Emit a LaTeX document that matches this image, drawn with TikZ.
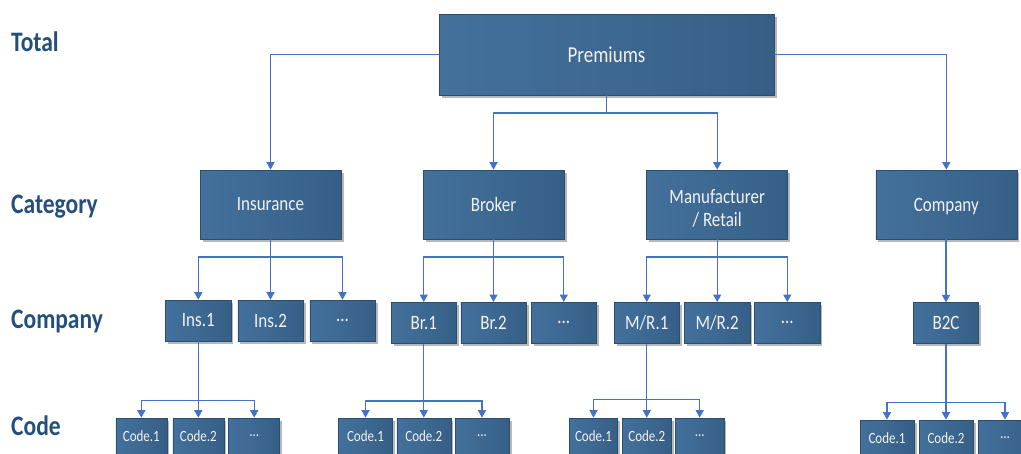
\documentclass[tikz,border=0pt]{standalone}
\usepackage{fontspec}
\setmainfont{Carlito}
\usepackage{graphicx}
\usetikzlibrary{arrows.meta,shadows}
\definecolor{boxA}{HTML}{43719C}
\definecolor{boxB}{HTML}{365F86}
\definecolor{boxE}{HTML}{2B4D6E}
\definecolor{lineC}{HTML}{4472C4}
\definecolor{lblC}{HTML}{234F7C}
\definecolor{txtC}{HTML}{F2F2F2}
\newcommand{\vst}[1]{\scalebox{1}[1.2]{#1}}
\begin{document}
\begin{tikzpicture}[x=1pt,y=-1pt,
  box/.style={draw=boxE, line width=0.6pt, left color=boxA, right color=boxB,
    text=txtC, inner sep=0pt,
    drop shadow={shadow xshift=2.5pt,shadow yshift=-2.5pt,fill=black,opacity=0.28}},
  totbox/.style={box, minimum width=335pt, minimum height=81pt, font=\fontsize{19}{22}\selectfont},
  catbox/.style={box, minimum width=141pt, minimum height=69pt, font=\fontsize{17}{23.7}\selectfont},
  compbox/.style={box, minimum width=65.3pt, minimum height=41pt, font=\fontsize{17}{20}\selectfont},
  codebox/.style={box, minimum height=36pt, font=\fontsize{13}{15}\selectfont},
  lbl/.style={anchor=base west, inner sep=0pt, text=lblC, font=\fontsize{23.5}{26}\selectfont\bfseries},
  ln/.style={draw=lineC, line width=1.3pt},
  arr/.style={ln, -{Triangle[width=8pt,length=7.5pt]}}
]
\useasboundingbox (0,0) rectangle (1021,453);
\clip (0,0) rectangle (1021,453);
\fill[white] (0,0) rectangle (1021,453);

% level labels
\node[lbl] (lt) at (11,51.7) {\vst{Total}};
\node[lbl] (lc) at (11,213.3) {\vst{Category}};
\node[lbl] (lm) at (11,328.3) {\vst{Company}};
\node[lbl] (ld) at (11,435) {\vst{Code}};

% top
\node[totbox] (prem) at (606.5,54.5) {\vst{Premiums}};

% categories
\node[catbox] (ins) at (270.5,204.5) {\vst{Insurance}};
\node[catbox] (bro) at (493.5,204.5) {\vst{Broker}};
\node[catbox] (man) at (717.2,204.5) {\raisebox{1.5pt}[0pt][0pt]{\begin{tabular}[t]{@{}c@{}}\vst{Manufacturer}\\\vst{/ Retail}\end{tabular}}};
\node[catbox] (com) at (946.3,204.5) {\raisebox{-6.5pt}[0pt][0pt]{\vst{Company}}};

% companies
\node[compbox] (ins1) at (198.3,320.5) {\vst{Ins.1}};
\node[compbox] (ins2) at (270.5,320.5) {\vst{Ins.2}};
\node[compbox] (ins3) at (342.5,320.5) {\vst{...}};
\node[compbox] (br1) at (423.8,322.8) {\vst{Br.1}};
\node[compbox] (br2) at (493.5,322.8) {\vst{Br.2}};
\node[compbox] (br3) at (563.8,322.8) {\vst{...}};
\node[compbox] (mr1) at (646.8,322.8) {\vst{M/R.1}};
\node[compbox] (mr2) at (717.2,322.8) {\vst{M/R.2}};
\node[compbox] (mr3) at (787.3,322.8) {\vst{...}};
\node[compbox] (b2c) at (946,323.2) {\vst{B2C}};

% codes
\node[codebox, minimum width=51pt] (ic1) at (141.3,436) {\vst{Code.1}};
\node[codebox, minimum width=51pt] (ic2) at (198.3,436) {\vst{Code.2}};
\node[codebox, minimum width=51pt] (ic3) at (254.2,436) {\vst{...}};
\node[codebox, minimum width=54pt] (bc1) at (365.5,436) {\vst{Code.1}};
\node[codebox, minimum width=54pt] (bc2) at (423.8,436) {\vst{Code.2}};
\node[codebox, minimum width=54pt] (bc3) at (482,436) {\vst{...}};
\node[codebox, minimum width=48.4pt] (mc1) at (593.5,436) {\vst{Code.1}};
\node[codebox, minimum width=48.4pt] (mc2) at (646.8,436) {\vst{Code.2}};
\node[codebox, minimum width=48.4pt] (mc3) at (699.7,436) {\vst{...}};
\node[codebox, minimum width=54pt] (gc1) at (887,438) {\vst{Code.1}};
\node[codebox, minimum width=54pt] (gc2) at (946,438) {\vst{Code.2}};
\node[codebox, minimum width=54pt] (gc3) at (1005,438) {\vst{...}};

% connectors: total -> categories
\coordinate (tb) at (606.5,113);
\draw[ln] (prem.south) -- (tb);
\draw[arr] (tb) -| (bro.north);
\draw[arr] (tb) -| (man.north);
\draw[arr] (prem.west) -| (ins.north);
\draw[arr] (prem.east) -| (com.north);

% categories -> companies
\coordinate (ib) at (270.5,257);
\draw[ln] (ins.south) -- (ib);
\draw[arr] (ib) -| (ins1.north);
\draw[arr] (ib) -- (ins2.north);
\draw[arr] (ib) -| (ins3.north);
\coordinate (bb) at (493.5,257);
\draw[ln] (bro.south) -- (bb);
\draw[arr] (bb) -| (br1.north);
\draw[arr] (bb) -- (br2.north);
\draw[arr] (bb) -| (br3.north);
\coordinate (mb) at (717.2,257);
\draw[ln] (man.south) -- (mb);
\draw[arr] (mb) -| (mr1.north);
\draw[arr] (mb) -- (mr2.north);
\draw[arr] (mb) -| (mr3.north);
\draw[arr] (com.south -| b2c.north) -- (b2c.north);

% companies -> codes
\coordinate (icb) at (198.3,400.3);
\draw[ln] (ins1.south) -- (icb);
\draw[arr] (icb) -| (ic1.north);
\draw[arr] (icb) -- (ic2.north);
\draw[arr] (icb) -| (ic3.north);
\coordinate (bcb) at (423.8,401);
\draw[ln] (br1.south) -- (bcb);
\draw[arr] (bcb) -| (bc1.north);
\draw[arr] (bcb) -- (bc2.north);
\draw[arr] (bcb) -| (bc3.north);
\coordinate (mcb) at (646.8,399.3);
\draw[ln] (mr1.south) -- (mcb);
\draw[arr] (mcb) -| (mc1.north);
\draw[arr] (mcb) -- (mc2.north);
\draw[arr] (mcb) -| (mc3.north);
\coordinate (gcb) at (946,402.3);
\draw[ln] (b2c.south) -- (gcb);
\draw[arr] (gcb) -| (gc1.north);
\draw[arr] (gcb) -- (gc2.north);
\draw[arr] (gcb) -| (gc3.north);
\end{tikzpicture}
\end{document}
